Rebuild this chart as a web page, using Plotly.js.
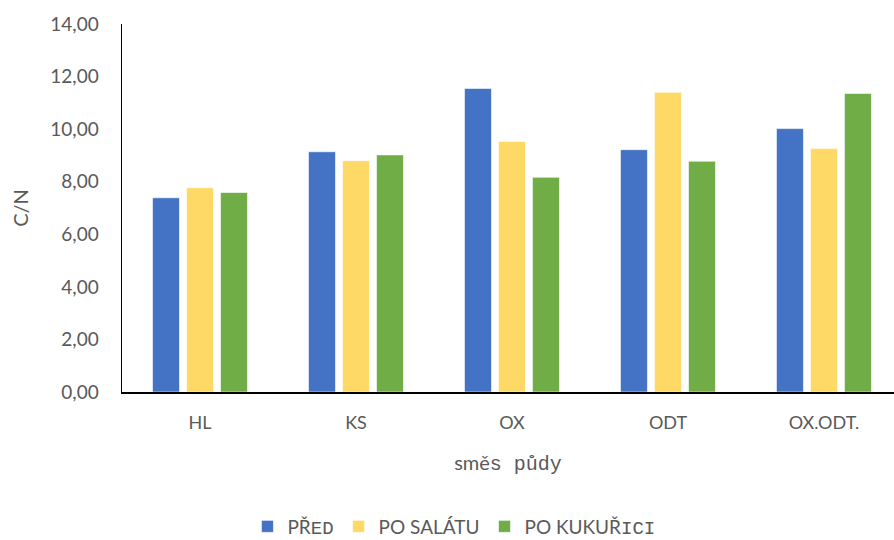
<!DOCTYPE html>
<html>
<head>
<meta charset="utf-8">
<script src="https://cdn.plot.ly/plotly-3.0.1.min.js"></script>
<style>html,body{margin:0;padding:0;background:#fff;}#chart{width:894px;height:540px;}</style>
</head>
<body>
<div id="chart"></div>
<script>
const categories = ["HL", "KS", "OX", "ODT", "OX.ODT."];
const seriesNames = ["PŘ<span style=\"font-family:Liberation Mono\">ED</span>", "PO SALÁTU", "PO KUKUŘ<span style=\"font-family:Liberation Mono\">ICI</span>"];
const pred = [7.39, 9.14, 11.55, 9.22, 10.02];
const poSalatu = [7.77, 8.80, 9.53, 11.40, 9.26];
const poKukurici = [7.59, 9.02, 8.17, 8.78, 11.36];
const colors = ["#4472C4", "#FFD966", "#70AD47"];
const values = [pred, poSalatu, poKukurici];

const font = "Lato, Calibri, 'Open Sans', sans-serif";
const traces = values.map((v, i) => ({
  type: "bar",
  x: categories,
  y: v,
  name: seriesNames[i],
  marker: {color: colors[i], line: {color: "rgba(255,255,255,0.6)", width: 1}},
  hoverinfo: "x+y"
}));

const layout = {
  width: 894, height: 540,
  margin: {l: 122, r: 0, t: 24, b: 148},
  paper_bgcolor: "#fff", plot_bgcolor: "#fff",
  separators: ", ",
  barmode: "group",
  bargap: 0.346,
  bargroupgap: 0.206,
  font: {family: font, color: "#595959", size: 18},
  xaxis: {
    range: [-0.5, 4.449],
    showline: true, linecolor: "#000", linewidth: 1.5,
    showgrid: false, zeroline: false, ticks: "",
    ticklabelstandoff: 14,
    tickfont: {size: 18, color: "#595959"},
    automargin: false,
    title: {text: "smě<span style=\"font-family:Liberation Mono\">s půdy</span>", font: {size: 20, color: "#595959"}, standoff: 24}
  },
  yaxis: {
    range: [0, 14], dtick: 2, tickformat: ".2f",
    showline: true, linecolor: "#000", linewidth: 1.5,
    showgrid: false, zeroline: false, ticks: "",
    ticklabelstandoff: 18,
    tickfont: {size: 19, color: "#595959"},
    automargin: false,
    title: {text: "C/N", font: {size: 20, color: "#595959"}, standoff: 16}
  },
  showlegend: true,
  legend: {
    orientation: "h",
    xref: "paper", x: 0.43, xanchor: "center",
    yref: "container", y: 0.025, yanchor: "middle",
    font: {size: 19, color: "#595959"},
    itemwidth: 30, tracegroupgap: 0
  }
};

Plotly.newPlot("chart", traces, layout, {displayModeBar: false, staticPlot: true});
</script>
</body>
</html>
